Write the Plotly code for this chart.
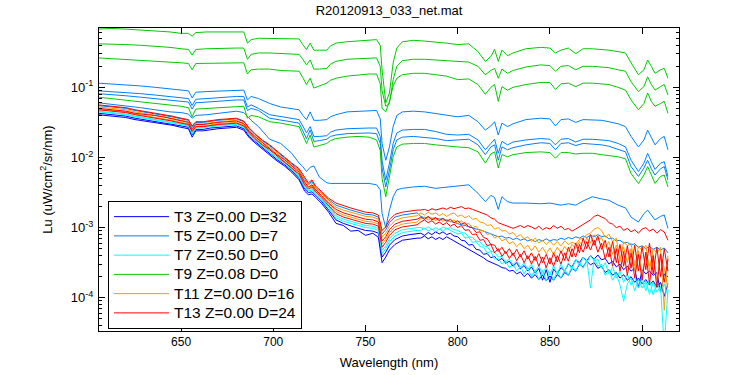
import numpy as np
import plotly.graph_objects as go

# ---------------- wavelength grids (nm) ----------------
wl = [605, 612, 620, 628, 636, 644, 650, 654, 656, 658,
      664, 672, 680, 684, 686, 688, 692, 698, 704, 710,
      714, 716, 718, 720, 722, 725, 729, 731, 734, 740,
      746, 752, 756, 758, 759, 761, 763, 765, 767, 770,
      776, 782, 788, 794, 800, 806, 811, 815, 818, 820,
      822, 824, 827, 830, 837, 845, 850, 853, 856, 860,
      864, 868, 873, 878, 882, 887, 891, 894, 898, 901,
      903, 905, 907, 910, 912, 914]

bw = [605, 610, 615, 620, 625, 630, 635, 640, 645, 650,
      654, 656, 658, 662, 666, 670, 675, 680, 684, 687,
      690, 694, 698, 702, 706, 710, 714, 717, 719, 721,
      723, 726, 730, 734, 738, 742, 746, 750, 754, 757,
      759, 761, 763, 766, 770, 774, 778,
      780, 782, 784, 786, 788, 790, 792, 794, 796, 798,
      800, 802, 804, 806, 808, 810, 812, 814, 816, 818,
      820, 822, 824, 826, 828, 830, 832, 834, 836, 838,
      840, 842, 844, 846, 848, 850, 852, 854, 856, 858,
      860, 862, 864, 866, 868, 870, 872, 874, 876, 878,
      880, 882, 884, 886, 888, 890, 892, 894, 896, 898,
      900, 902, 904, 906, 908, 910, 912, 914]

# ---------------- Lu values, stored as log10(Lu) ----------------
# T9 (green) casts on grid wl
t9_log_a = [-0.17, -0.16, -0.17, -0.18, -0.19, -0.21, -0.23, -0.23, -0.27, -0.22,
            -0.21, -0.21, -0.21, -0.21, -0.37, -0.32, -0.30, -0.30, -0.30, -0.31,
            -0.31, -0.39, -0.46, -0.37, -0.47, -0.47, -0.47, -0.41, -0.37, -0.35,
            -0.34, -0.33, -0.32, -0.40, -0.75, -1.22, -1.08, -0.65, -0.44, -0.35,
            -0.33, -0.34, -0.35, -0.37, -0.39, -0.38, -0.49, -0.63, -0.56, -0.46,
            -0.63, -0.47, -0.55, -0.51, -0.45, -0.43, -0.44, -0.51, -0.47, -0.44,
            -0.52, -0.45, -0.45, -0.46, -0.47, -0.49, -0.51, -0.65, -0.82, -0.75,
            -0.61, -0.70, -0.80, -0.75, -0.73, -0.87]
t9_log_b = [-0.38, -0.38, -0.39, -0.40, -0.41, -0.43, -0.45, -0.46, -0.54, -0.46,
            -0.45, -0.44, -0.44, -0.44, -0.60, -0.53, -0.51, -0.51, -0.52, -0.52,
            -0.53, -0.60, -0.68, -0.61, -0.74, -0.74, -0.73, -0.67, -0.63, -0.60,
            -0.59, -0.59, -0.58, -0.70, -1.05, -1.27, -1.23, -0.89, -0.70, -0.62,
            -0.60, -0.60, -0.61, -0.63, -0.64, -0.64, -0.70, -0.82, -0.76, -0.73,
            -0.87, -0.74, -0.80, -0.76, -0.71, -0.68, -0.69, -0.77, -0.70, -0.69,
            -0.75, -0.70, -0.70, -0.71, -0.72, -0.75, -0.77, -0.92, -1.06, -0.99,
            -0.85, -0.96, -1.04, -0.99, -0.96, -1.11]
t9_log_c = [-0.58, -0.59, -0.60, -0.61, -0.62, -0.64, -0.65, -0.66, -0.75, -0.66,
            -0.66, -0.65, -0.65, -0.65, -0.81, -0.75, -0.74, -0.74, -0.76, -0.76,
            -0.77, -0.86, -0.96, -0.87, -1.01, -0.98, -0.94, -0.90, -0.87, -0.84,
            -0.82, -0.81, -0.81, -0.95, -1.30, -1.35, -1.20, -0.98, -0.87, -0.82,
            -0.80, -0.80, -0.82, -0.84, -0.89, -0.88, -0.96, -1.10, -1.00, -0.96,
            -1.20, -0.99, -1.04, -1.00, -0.96, -0.93, -0.93, -1.03, -0.95, -0.94,
            -0.99, -0.94, -0.94, -0.95, -0.96, -1.00, -1.04, -1.18, -1.32, -1.23,
            -1.08, -1.20, -1.27, -1.23, -1.20, -1.37]
t9_log_d = [-1.14, -1.16, -1.18, -1.20, -1.22, -1.25, -1.27, -1.29, -1.42, -1.31,
            -1.30, -1.28, -1.27, -1.27, -1.44, -1.40, -1.42, -1.49, -1.51, -1.54,
            -1.56, -1.68, -1.80, -1.68, -1.85, -1.83, -1.80, -1.76, -1.73, -1.71,
            -1.70, -1.71, -1.75, -1.90, -2.30, -2.56, -2.27, -1.99, -1.85, -1.81,
            -1.80, -1.80, -1.82, -1.84, -1.85, -1.86, -1.92, -2.08, -1.95, -1.92,
            -2.15, -1.96, -1.99, -1.96, -1.93, -1.92, -1.93, -2.01, -1.93, -1.93,
            -1.95, -1.94, -1.94, -1.96, -1.97, -1.99, -2.02, -2.23, -2.37, -2.25,
            -2.13, -2.24, -2.37, -2.27, -2.25, -2.42]

# T5 (azure) casts on grid wl
t5_log_a = [-0.94, -0.95, -0.96, -0.98, -1.00, -1.02, -1.04, -1.05, -1.15, -1.07,
            -1.06, -1.05, -1.04, -1.04, -1.18, -1.13, -1.16, -1.23, -1.28, -1.30,
            -1.32, -1.40, -1.46, -1.35, -1.47, -1.47, -1.46, -1.42, -1.39, -1.35,
            -1.34, -1.33, -1.33, -1.45, -1.80, -2.04, -1.85, -1.56, -1.40, -1.35,
            -1.34, -1.35, -1.37, -1.40, -1.42, -1.40, -1.49, -1.61, -1.55, -1.49,
            -1.68, -1.51, -1.56, -1.52, -1.46, -1.44, -1.45, -1.55, -1.46, -1.45,
            -1.50, -1.46, -1.46, -1.47, -1.49, -1.52, -1.56, -1.70, -1.85, -1.75,
            -1.61, -1.72, -1.82, -1.73, -1.70, -1.89]
t5_log_b = [-1.05, -1.06, -1.07, -1.09, -1.11, -1.13, -1.14, -1.16, -1.26, -1.17,
            -1.16, -1.14, -1.13, -1.13, -1.28, -1.25, -1.30, -1.39, -1.42, -1.45,
            -1.46, -1.55, -1.65, -1.56, -1.70, -1.70, -1.69, -1.64, -1.61, -1.59,
            -1.58, -1.58, -1.58, -1.70, -2.05, -2.32, -2.08, -1.80, -1.65, -1.61,
            -1.60, -1.60, -1.63, -1.67, -1.68, -1.67, -1.75, -1.89, -1.80, -1.74,
            -1.94, -1.77, -1.82, -1.78, -1.75, -1.73, -1.74, -1.82, -1.74, -1.73,
            -1.78, -1.74, -1.74, -1.75, -1.76, -1.80, -1.85, -2.04, -2.20, -2.08,
            -1.94, -2.06, -2.17, -2.08, -2.06, -2.27]
t5_log_c = [-1.09, -1.10, -1.12, -1.14, -1.16, -1.18, -1.20, -1.21, -1.31, -1.22,
            -1.21, -1.19, -1.18, -1.18, -1.33, -1.30, -1.33, -1.44, -1.47, -1.50,
            -1.51, -1.62, -1.73, -1.61, -1.77, -1.76, -1.74, -1.70, -1.68, -1.66,
            -1.65, -1.65, -1.66, -1.80, -2.15, -2.42, -2.18, -1.89, -1.75, -1.71,
            -1.70, -1.71, -1.73, -1.76, -1.75, -1.74, -1.82, -1.96, -1.85, -1.82,
            -2.04, -1.85, -1.89, -1.86, -1.82, -1.79, -1.80, -1.89, -1.80, -1.79,
            -1.83, -1.80, -1.81, -1.82, -1.84, -1.88, -1.92, -2.13, -2.27, -2.15,
            -2.04, -2.16, -2.25, -2.16, -2.13, -2.32]
t5_log_d = [-1.22, -1.24, -1.26, -1.29, -1.32, -1.35, -1.36, -1.38, -1.44, -1.40,
            -1.39, -1.37, -1.34, -1.36, -1.42, -1.47, -1.56, -1.74, -1.80, -1.94,
            -2.08, -2.13, -2.20, -2.14, -2.12, -2.28, -2.36, -2.37, -2.37, -2.37,
            -2.37, -2.37, -2.39, -2.46, -2.80, -3.00, -2.75, -2.56, -2.46, -2.44,
            -2.42, -2.41, -2.44, -2.42, -2.41, -2.39, -2.51, -2.63, -2.54, -2.57,
            -2.74, -2.56, -2.63, -2.65, -2.65, -2.66, -2.65, -2.66, -2.68, -2.66,
            -2.68, -2.62, -2.56, -2.59, -2.61, -2.68, -2.72, -2.85, -2.92, -2.80,
            -2.75, -2.82, -2.89, -2.84, -2.82, -3.01]

# bundle casts on grid bw
t5_log_e = [-1.26, -1.27, -1.29, -1.30, -1.33, -1.35, -1.37, -1.39, -1.42, -1.45,
            -1.47, -1.57, -1.50, -1.50, -1.48, -1.47, -1.46, -1.45, -1.49, -1.59,
            -1.67, -1.76, -1.83, -1.92, -2.00, -2.09, -2.18, -2.31, -2.38, -2.34,
            -2.43, -2.50, -2.60, -2.68, -2.72, -2.75, -2.78, -2.81, -2.82, -2.85,
            -3.09, -3.03, -2.93, -2.85, -2.82, -2.80, -2.79,
            -2.84, -2.86, -2.85, -2.87, -2.86, -2.88, -2.87, -2.90, -2.91, -2.93,
            -2.94, -2.96, -2.97, -2.99, -3.00, -3.02, -3.03, -3.05, -3.07, -3.09,
            -3.10, -3.13, -3.12, -3.15, -3.14, -3.17, -3.15, -3.18, -3.16, -3.19,
            -3.17, -3.20, -3.17, -3.19, -3.16, -3.19, -3.17, -3.18, -3.15, -3.17,
            -3.14, -3.16, -3.13, -3.15, -3.12, -3.14, -3.11, -3.13, -3.10, -3.13,
            -3.12, -3.16, -3.15, -3.19, -3.18, -3.22, -3.21, -3.25, -3.23, -3.28,
            -3.26, -3.30, -3.27, -3.31, -3.28, -3.32, -3.29, -3.36]

t3_log_a = [-1.37, -1.38, -1.40, -1.41, -1.44, -1.46, -1.48, -1.50, -1.52, -1.55,
            -1.57, -1.68, -1.60, -1.60, -1.58, -1.57, -1.56, -1.55, -1.59, -1.70,
            -1.77, -1.86, -1.94, -2.03, -2.10, -2.19, -2.30, -2.45, -2.50, -2.49,
            -2.54, -2.62, -2.75, -2.89, -2.94, -2.98, -3.01, -3.04, -3.05, -3.08,
            -3.42, -3.35, -3.25, -3.17, -3.12, -3.10, -3.09,
            -3.08, -3.11, -3.07, -3.10, -3.06, -3.09, -3.06, -3.10, -3.08, -3.12,
            -3.13, -3.18, -3.19, -3.25, -3.24, -3.31, -3.32, -3.38, -3.37, -3.43,
            -3.41, -3.47, -3.44, -3.51, -3.48, -3.55, -3.50, -3.59, -3.54, -3.62,
            -3.56, -3.65, -3.58, -3.75, -3.60, -3.78, -3.59, -3.66, -3.57, -3.62,
            -3.52, -3.56, -3.46, -3.50, -3.42, -3.47, -3.40, -3.45, -3.39, -3.46,
            -3.44, -3.52, -3.48, -3.56, -3.52, -3.60, -3.55, -3.62, -3.58, -3.86,
            -3.60, -3.66, -3.62, -3.68, -3.64, -3.92, -3.66, -3.70]
t3_log_b = [-1.39, -1.40, -1.42, -1.43, -1.46, -1.48, -1.50, -1.51, -1.54, -1.57,
            -1.59, -1.71, -1.62, -1.62, -1.60, -1.59, -1.58, -1.57, -1.61, -1.72,
            -1.79, -1.88, -1.96, -2.05, -2.12, -2.21, -2.32, -2.48, -2.53, -2.52,
            -2.57, -2.65, -2.78, -2.94, -2.97, -3.05, -3.04, -3.11, -3.08, -3.14,
            -3.50, -3.42, -3.32, -3.24, -3.18, -3.16, -3.15,
            -3.15, -3.12, -3.16, -3.13, -3.17, -3.14, -3.17, -3.13, -3.16, -3.19,
            -3.21, -3.24, -3.27, -3.30, -3.33, -3.37, -3.40, -3.43, -3.47, -3.49,
            -3.52, -3.54, -3.57, -3.58, -3.62, -3.61, -3.66, -3.63, -3.70, -3.65,
            -3.72, -3.67, -3.74, -3.68, -3.76, -3.69, -3.75, -3.67, -3.72, -3.64,
            -3.68, -3.58, -3.62, -3.52, -3.56, -3.48, -3.53, -3.50, -3.58, -3.55,
            -3.64, -3.60, -3.68, -3.64, -3.72, -3.67, -3.75, -3.70, -3.78, -3.72,
            -3.80, -3.74, -3.82, -3.76, -3.85, -3.78, -3.98, -3.80]

t7_log_a = [-1.34, -1.35, -1.37, -1.38, -1.41, -1.43, -1.45, -1.47, -1.49, -1.52,
            -1.54, -1.65, -1.57, -1.57, -1.55, -1.54, -1.53, -1.52, -1.56, -1.67,
            -1.74, -1.83, -1.91, -2.00, -2.07, -2.16, -2.26, -2.41, -2.47, -2.44,
            -2.51, -2.59, -2.70, -2.83, -2.88, -2.91, -2.94, -2.97, -2.98, -3.01,
            -3.32, -3.26, -3.16, -3.08, -3.03, -3.01, -3.00,
            -3.00, -3.02, -2.99, -3.03, -3.00, -3.03, -2.99, -3.02, -3.00, -3.03,
            -3.04, -3.07, -3.08, -3.13, -3.14, -3.19, -3.20, -3.26, -3.27, -3.34,
            -3.35, -3.42, -3.41, -3.49, -3.45, -3.53, -3.47, -3.57, -3.50, -3.60,
            -3.52, -3.64, -3.54, -3.67, -3.55, -3.68, -3.54, -3.66, -3.52, -3.63,
            -3.50, -3.60, -3.45, -3.55, -3.42, -3.50, -3.40, -3.48, -3.45, -3.58,
            -3.50, -3.66, -3.56, -3.72, -3.62, -3.78, -3.66, -3.82, -3.70, -3.86,
            -3.72, -3.90, -3.74, -3.96, -3.78, -3.92, -3.80, -3.98]
t7_log_b = [-1.35, -1.36, -1.38, -1.39, -1.42, -1.44, -1.46, -1.48, -1.50, -1.53,
            -1.55, -1.67, -1.58, -1.58, -1.56, -1.55, -1.54, -1.53, -1.57, -1.68,
            -1.75, -1.84, -1.92, -2.01, -2.08, -2.17, -2.28, -2.43, -2.48, -2.46,
            -2.53, -2.60, -2.72, -2.86, -2.91, -2.94, -2.97, -3.00, -3.01, -3.04,
            -3.37, -3.30, -3.20, -3.12, -3.07, -3.05, -3.04,
            -3.04, -3.01, -3.05, -3.02, -3.06, -3.02, -3.05, -3.01, -3.04, -3.06,
            -3.09, -3.08, -3.15, -3.14, -3.21, -3.20, -3.27, -3.28, -3.36, -3.34,
            -3.45, -3.44, -3.52, -3.48, -3.57, -3.52, -3.62, -3.55, -3.66, -3.57,
            -3.70, -3.60, -3.74, -3.61, -3.76, -3.63, -3.75, -3.62, -3.72, -3.60,
            -3.68, -3.55, -3.62, -3.50, -3.58, -3.46, -3.86, -3.44, -3.55, -3.52,
            -3.68, -3.60, -3.75, -3.66, -3.82, -4.05, -3.80, -3.72, -3.90, -3.74,
            -3.86, -3.76, -3.95, -3.78, -3.92, -3.84, -4.70, -3.88]

t11_log_a = [-1.28, -1.29, -1.31, -1.32, -1.35, -1.37, -1.39, -1.41, -1.44, -1.47,
             -1.49, -1.58, -1.52, -1.52, -1.50, -1.49, -1.48, -1.47, -1.51, -1.61,
             -1.69, -1.78, -1.85, -1.94, -2.02, -2.11, -2.19, -2.33, -2.39, -2.36,
             -2.44, -2.51, -2.62, -2.71, -2.75, -2.78, -2.81, -2.84, -2.85, -2.88,
             -3.13, -3.08, -2.98, -2.90, -2.86, -2.84, -2.83,
             -2.79, -2.82, -2.78, -2.81, -2.79, -2.83, -2.80, -2.84, -2.81, -2.79,
             -2.84, -2.82, -2.86, -2.83, -2.88, -2.87, -2.92, -2.93, -2.97, -2.96,
             -3.02, -3.00, -3.05, -3.04, -3.09, -3.07, -3.13, -3.10, -3.16, -3.13,
             -3.20, -3.15, -3.22, -3.18, -3.24, -3.19, -3.25, -3.20, -3.26, -3.19,
             -3.24, -3.21, -3.23, -3.17, -3.15, -3.10, -3.08, -3.02, -3.00, -3.04,
             -3.14, -3.09, -3.20, -3.15, -3.48, -3.20, -3.26, -3.22, -3.55, -3.27,
             -3.32, -3.25, -3.62, -3.30, -3.36, -3.28, -4.18, -3.40]
t11_log_b = [-1.31, -1.32, -1.34, -1.35, -1.38, -1.40, -1.42, -1.44, -1.47, -1.50,
             -1.52, -1.62, -1.55, -1.55, -1.53, -1.52, -1.51, -1.50, -1.54, -1.64,
             -1.72, -1.81, -1.88, -1.97, -2.05, -2.14, -2.23, -2.37, -2.43, -2.40,
             -2.48, -2.55, -2.66, -2.77, -2.82, -2.85, -2.88, -2.91, -2.92, -2.95,
             -3.23, -3.17, -3.07, -2.99, -2.95, -2.93, -2.92,
             -2.87, -2.85, -2.89, -2.86, -2.90, -2.87, -2.91, -2.88, -2.92, -2.89,
             -2.94, -2.90, -2.96, -2.94, -3.00, -2.98, -3.05, -3.04, -3.10, -3.08,
             -3.15, -3.12, -3.19, -3.16, -3.23, -3.20, -3.27, -3.22, -3.30, -3.25,
             -3.33, -3.26, -3.35, -3.28, -3.37, -3.29, -3.38, -3.28, -3.36, -3.27,
             -3.34, -3.24, -3.30, -3.20, -3.26, -3.15, -3.22, -3.10, -3.18, -3.14,
             -3.28, -3.20, -3.38, -3.25, -3.45, -3.28, -3.50, -3.30, -3.62, -3.33,
             -3.70, -3.35, -3.55, -3.38, -3.75, -3.36, -3.58, -3.85]

t13_log_a = [-1.25, -1.26, -1.28, -1.29, -1.32, -1.34, -1.36, -1.38, -1.41, -1.44,
             -1.46, -1.55, -1.49, -1.49, -1.47, -1.46, -1.45, -1.44, -1.48, -1.58,
             -1.66, -1.75, -1.82, -1.91, -1.99, -2.08, -2.16, -2.29, -2.36, -2.32,
             -2.41, -2.48, -2.58, -2.65, -2.69, -2.72, -2.75, -2.78, -2.79, -2.82,
             -3.04, -2.99, -2.89, -2.81, -2.78, -2.76, -2.75,
             -2.75, -2.74, -2.76, -2.73, -2.75, -2.74, -2.72, -2.74, -2.71, -2.73,
             -2.72, -2.70, -2.73, -2.72, -2.74, -2.76, -2.77, -2.80, -2.82, -2.86,
             -2.88, -2.93, -2.95, -2.97, -2.98, -3.01, -2.99, -2.97, -3.00, -2.97,
             -2.99, -3.02, -2.98, -3.03, -3.00, -3.02, -2.97, -3.01, -2.98, -3.03,
             -3.01, -3.05, -3.02, -2.99, -2.96, -2.92, -2.89, -2.84, -2.82, -2.85,
             -2.87, -2.93, -2.95, -3.00, -2.98, -3.04, -3.01, -3.06, -3.03, -3.08,
             -3.02, -3.00, -3.05, -3.02, -3.08, -3.03, -3.06, -3.18]
t13_log_b = [-1.30, -1.31, -1.32, -1.34, -1.37, -1.38, -1.40, -1.42, -1.45, -1.48,
             -1.50, -1.60, -1.53, -1.53, -1.51, -1.50, -1.49, -1.48, -1.52, -1.63,
             -1.70, -1.79, -1.87, -1.96, -2.03, -2.12, -2.21, -2.35, -2.42, -2.39,
             -2.46, -2.54, -2.65, -2.74, -2.79, -2.82, -2.85, -2.88, -2.89, -2.92,
             -3.19, -3.13, -3.03, -2.95, -2.91, -2.89, -2.88,
             -2.85, -2.88, -2.84, -2.89, -2.86, -2.90, -2.87, -2.91, -2.88, -2.93,
             -2.90, -2.95, -2.93, -2.99, -3.00, -3.07, -3.06, -3.14, -3.16, -3.24,
             -3.25, -3.34, -3.28, -3.37, -3.30, -3.40, -3.31, -3.42, -3.33, -3.45,
             -3.36, -3.47, -3.37, -3.50, -3.38, -3.52, -3.36, -3.49, -3.33, -3.47,
             -3.28, -3.42, -3.22, -3.36, -3.15, -3.30, -3.10, -3.25, -3.12, -3.31,
             -3.18, -3.42, -3.20, -3.50, -3.24, -3.55, -3.26, -3.58, -3.25, -3.62,
             -3.27, -3.60, -3.22, -3.66, -3.28, -3.70, -3.30, -3.62]
t13_log_c = [-1.32, -1.33, -1.35, -1.36, -1.39, -1.41, -1.43, -1.45, -1.48, -1.51,
             -1.53, -1.63, -1.56, -1.56, -1.54, -1.53, -1.52, -1.51, -1.55, -1.65,
             -1.73, -1.82, -1.89, -1.98, -2.06, -2.15, -2.24, -2.39, -2.45, -2.42,
             -2.49, -2.57, -2.68, -2.80, -2.85, -2.88, -2.91, -2.94, -2.95, -2.98,
             -3.28, -3.21, -3.11, -3.03, -2.99, -2.97, -2.96,
             -2.92, -2.89, -2.93, -2.90, -2.95, -2.92, -2.96, -2.93, -2.98, -2.95,
             -3.00, -2.97, -3.04, -3.03, -3.10, -3.09, -3.18, -3.17, -3.26, -3.24,
             -3.36, -3.30, -3.41, -3.34, -3.44, -3.36, -3.47, -3.38, -3.50, -3.40,
             -3.52, -3.41, -3.55, -3.42, -3.57, -3.43, -3.55, -3.40, -3.52, -3.36,
             -3.48, -3.30, -3.42, -3.24, -3.35, -3.20, -3.32, -3.18, -3.35, -3.22,
             -3.45, -3.28, -3.55, -3.30, -3.62, -3.34, -3.68, -3.36, -3.72, -3.38,
             -3.75, -3.35, -3.80, -3.40, -3.85, -3.38, -3.78, -3.45]

# ---------------- series definitions ----------------
series = [
    ("T3 Z=0.00 D=32", "#0000FF", [(bw, t3_log_a), (bw, t3_log_b)]),
    ("T5 Z=0.00 D=7", "#0080FF", [(wl, t5_log_a), (wl, t5_log_b), (wl, t5_log_c),
                                   (wl, t5_log_d), (bw, t5_log_e)]),
    ("T7 Z=0.50 D=0", "#00FFFF", [(bw, t7_log_a), (bw, t7_log_b)]),
    ("T9 Z=0.08 D=0", "#00CC00", [(wl, t9_log_a), (wl, t9_log_b), (wl, t9_log_c),
                                   (wl, t9_log_d)]),
    ("T11 Z=0.00 D=16", "#FF9900", [(bw, t11_log_a), (bw, t11_log_b)]),
    ("T13 Z=0.00 D=24", "#FF0000", [(bw, t13_log_a), (bw, t13_log_b), (bw, t13_log_c)]),
]

fig = go.Figure()
for name, color, casts in series:
    for i, (xs, ys) in enumerate(casts):
        if len(xs) != len(ys):
            raise ValueError(f"{name} cast {i}: {len(xs)} x vs {len(ys)} y")
        fig.add_trace(go.Scatter(
            x=xs, y=np.power(10.0, np.array(ys)), mode="lines",
            line=dict(color=color, width=1),
            name='<span style="font-size:15.5px">' + name + '</span>',
            showlegend=(i == 0),
            hoverinfo="skip",
        ))

minor_vals = [m * 10.0 ** e for e in range(-5, 0) for m in range(2, 10)]

fig.update_layout(
    width=750, height=375,
    margin=dict(l=99, r=71, t=28, b=44, pad=0, autoexpand=False),
    paper_bgcolor="white", plot_bgcolor="white",
    font=dict(family="Liberation Sans, Arial, sans-serif", size=13, color="black"),
    title=dict(text="R20120913_033_net.mat", x=0.5, xref="paper", xanchor="center",
               y=0.972, yref="container", yanchor="middle", automargin=False,
               font=dict(size=13, color="black")),
    showlegend=True,
    legend=dict(x=0.0155, y=0.429, xanchor="left", yanchor="top",
                bgcolor="white", bordercolor="black", borderwidth=1,
                font=dict(size=12.5, color="black"), itemwidth=55,
                tracegroupgap=0, traceorder="normal"),
    xaxis=dict(range=[605.5, 920], tickvals=[650, 700, 750, 800, 850, 900],
               ticks="inside", ticklen=6, tickcolor="black",
               showline=True, linecolor="black", linewidth=1, mirror="ticks",
               showgrid=False, zeroline=False, automargin=True,
               title=dict(text="Wavelength (nm)", font=dict(size=13), standoff=9),
               tickfont=dict(size=12)),
    yaxis=dict(type="log", range=[-4.474, -0.154],
               tickvals=[1e-4, 1e-3, 1e-2, 1e-1],
               ticktext=["10<sup>-4</sup>", "10<sup>-3</sup>", "10<sup>-2</sup>", "10<sup>-1</sup>"],
               ticks="inside", ticklen=6, tickcolor="black", ticklabelstandoff=2,
               showline=True, linecolor="black", linewidth=1, mirror="ticks",
               showgrid=False, zeroline=False, automargin=False,
               minor=dict(tickvals=minor_vals, ticks="inside", ticklen=3,
                          tickcolor="black", showgrid=False),
               title=dict(text="Lu (uW/cm<sup>2</sup>/sr/nm)", font=dict(size=13)),
               tickfont=dict(size=13)),
)

fig.write_html("out.html", config={"displayModeBar": False},
               post_script="document.body.style.margin='0px';")
